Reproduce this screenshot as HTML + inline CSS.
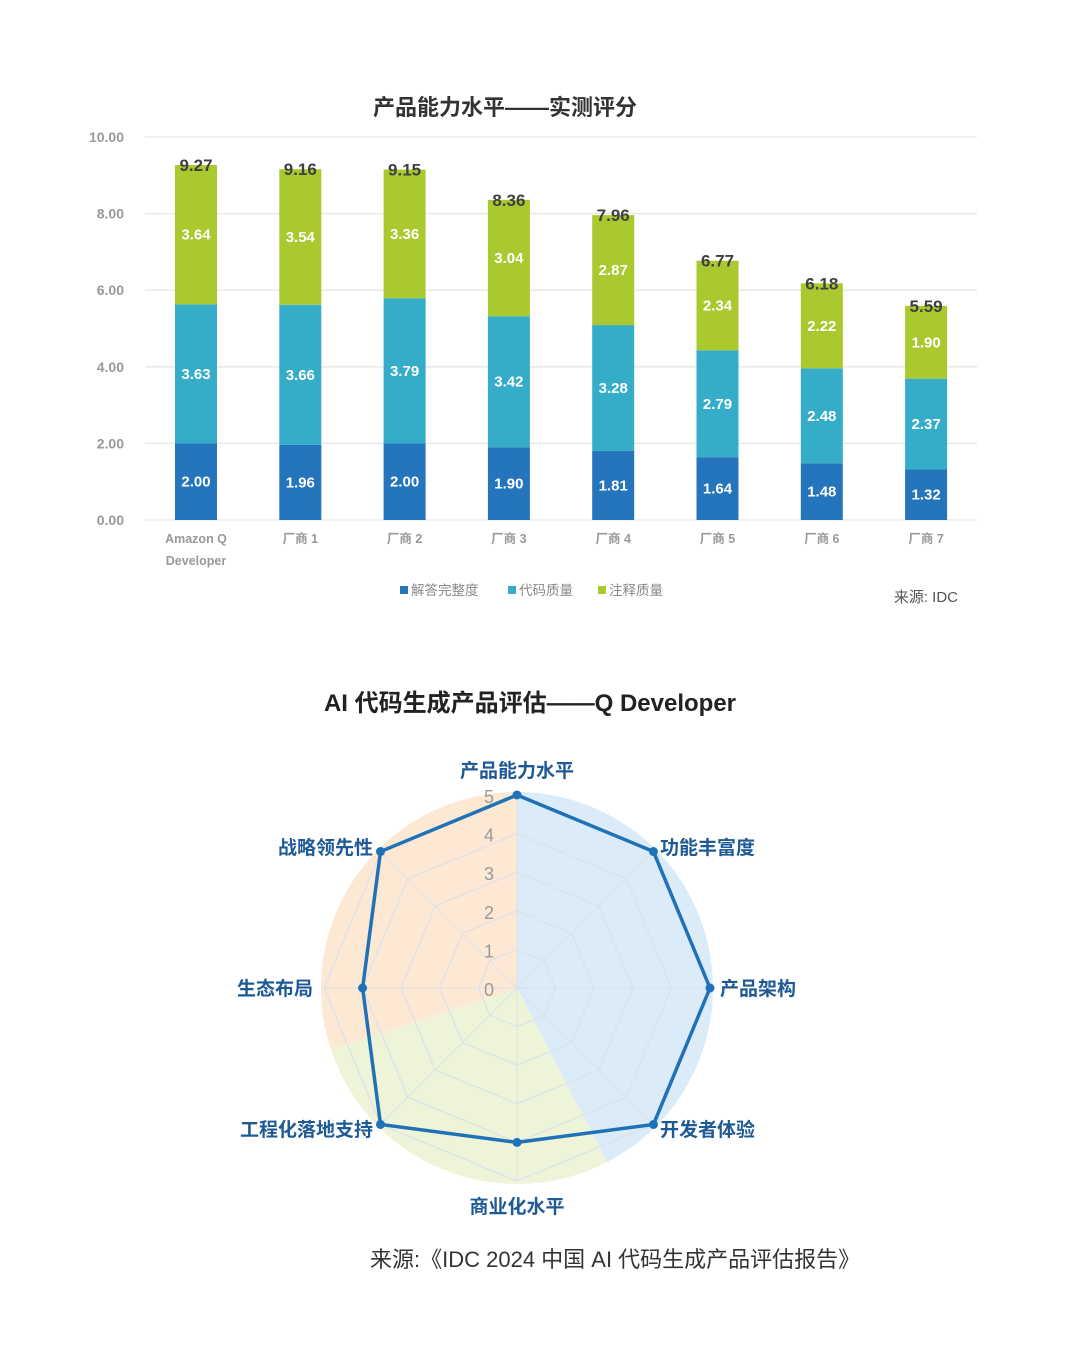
<!DOCTYPE html>
<html><head><meta charset="utf-8">
<style>
body{margin:0;background:#fff;}
svg text{font-family:"Liberation Sans","Noto Sans CJK SC",sans-serif;}
</style></head>
<body>
<svg width="1080" height="1350" viewBox="0 0 1080 1350" xmlns="http://www.w3.org/2000/svg">
<g id="bar"></g>
<g id="radar"></g>
</svg>
<script>
const NS="http://www.w3.org/2000/svg";
function mk(parent,tag,attrs,txt){const e=document.createElementNS(NS,tag);for(const k in attrs)e.setAttribute(k,attrs[k]);if(txt!==undefined)e.textContent=txt;parent.appendChild(e);return e;}

// ---- bar chart data ----
const categories=["Amazon Q|Developer","厂商 1","厂商 2","厂商 3","厂商 4","厂商 5","厂商 6","厂商 7"];
const completeness=[2.00,1.96,2.00,1.90,1.81,1.64,1.48,1.32];
const codeQuality=[3.63,3.66,3.79,3.42,3.28,2.79,2.48,2.37];
const commentQuality=[3.64,3.54,3.36,3.04,2.87,2.34,2.22,1.90];
const totals=[9.27,9.16,9.15,8.36,7.96,6.77,6.18,5.59];
const yTicks=[0,2,4,6,8,10];
const seriesNames=["解答完整度","代码质量","注释质量"];

// ---- radar data ----
const radarAxes=["产品能力水平","功能丰富度","产品架构","开发者体验","商业化水平","工程化落地支持","生态布局","战略领先性"];
const radarValues=[5,5,5,5,4,5,4,5];
const radarTicks=[0,1,2,3,4,5];
const sectorShares=[0.424,0.275,0.301];

const bar=document.getElementById('bar');
const y0=520,pxPer=38.3;
const yScale=v=>y0-v*pxPer;
const xScale=i=>196+i*104.3;
const colors=["#2475bb","#35adc8","#a9c92f"];

let t=mk(bar,'text',{x:505,y:115,'text-anchor':'middle','font-size':22,'font-weight':'bold',fill:'#333'},'产品能力水平——实测评分');



yTicks.forEach(v=>{
  const l=mk(bar,'line',{x1:145,x2:977,y1:yScale(v),y2:yScale(v),stroke:'#e6e6e6','stroke-width':1.3});
  
  
  const tx=mk(bar,'text',{x:124,y:yScale(v)+5,'text-anchor':'end','font-size':14,'font-weight':'bold',fill:'#999'},v.toFixed(2));
  
  
});

const series=[completeness,codeQuality,commentQuality];
categories.forEach((c,i)=>{
  let base=0;
  const cx=xScale(i);
  series.forEach((s,k)=>{
    const v=s[i];
    const r=mk(bar,'rect',{x:cx-21,y:yScale(base+v),width:42,height:v*pxPer,fill:colors[k]});
    
    
    const lb=mk(bar,'text',{x:cx,y:yScale(base+v/2)+5,'text-anchor':'middle','font-size':15,'font-weight':'bold',fill:'#fff'},v.toFixed(2));
    
    
    base+=v;
  });
  const tl=mk(bar,'text',{x:cx,y:yScale(totals[i])+6,'text-anchor':'middle','font-size':17,'font-weight':'bold',fill:'#404040'},totals[i].toFixed(2));
  
  
  const parts=c.split('|');
  parts.forEach((p,j)=>{
    const xl=mk(bar,'text',{x:cx,y:543+j*22,'text-anchor':'middle','font-size':12.5,'font-weight':'bold',fill:'#999'},p);
    
    
  });
});

const legX=[400,508,598];
seriesNames.forEach((n,k)=>{
  const g=mk(bar,'g',{});
  
  
  mk(g,'rect',{x:legX[k],y:586,width:8,height:8,fill:colors[k]});
  mk(g,'text',{x:legX[k]+11,y:595,'font-size':13.5,fill:'#888'},n);
});
t=mk(bar,'text',{x:958,y:602,'text-anchor':'end','font-size':15,fill:'#555'},'来源: IDC');



// ---- radar ----
const radar=document.getElementById('radar');
const cx=517,cy=988,R=193;
const N=radarAxes.length;
const ang=i=>i*2*Math.PI/N;
const rScale=v=>v/5*R;
const pt=(i,v)=>[cx+rScale(v)*Math.sin(ang(i)),cy-rScale(v)*Math.cos(ang(i))];

t=mk(radar,'text',{x:530,y:711,'text-anchor':'middle','font-size':24,'font-weight':'bold',fill:'#222'},'AI 代码生成产品评估——Q Developer');



const secColors=["#dcebf8","#eef4d8","#fde9d3"];
let a0=0;const SR=196;
sectorShares.forEach((s,k)=>{
  const a1=a0+s*2*Math.PI;
  const p0=[cx+SR*Math.sin(a0),cy-SR*Math.cos(a0)],p1=[cx+SR*Math.sin(a1),cy-SR*Math.cos(a1)];
  const large=(a1-a0)>Math.PI?1:0;
  const p=mk(radar,'path',{d:`M${cx},${cy} L${p0[0]},${p0[1]} A${SR},${SR} 0 ${large} 1 ${p1[0]},${p1[1]} Z`,fill:secColors[k]});
  
  
  a0=a1;
});

radarTicks.slice(1).forEach(v=>{
  const pts=radarAxes.map((_,i)=>pt(i,v).join(',')).join(' ');
  const g=mk(radar,'polygon',{points:pts,fill:'none',stroke:'#dde0e8','stroke-width':1.2});
  
  
});
radarAxes.forEach((a,i)=>{
  const e=pt(i,5);
  const l=mk(radar,'line',{x1:cx,y1:cy,x2:e[0],y2:e[1],stroke:'#dde0e8','stroke-width':1});
  
  
});
radarTicks.forEach(v=>{
  const tx=mk(radar,'text',{x:489,y:cy-rScale(v)+8,'text-anchor':'middle','font-size':18,fill:'#999'},String(v));
  
  
});

const poly=mk(radar,'polygon',{points:radarValues.map((v,i)=>pt(i,v).join(',')).join(' '),fill:'none',stroke:'#1f72b8','stroke-width':3.5,'stroke-linejoin':'round'});


radarValues.forEach((v,i)=>{
  const p=pt(i,v);
  const c=mk(radar,'circle',{cx:p[0],cy:p[1],r:4.5,fill:'#1f72b8'});
  
  
});

const labelPos=[[517,777,'middle'],[660,854,'start'],[720,995,'start'],[660,1136,'start'],[517,1213,'middle'],[373,1136,'end'],[313,995,'end'],[373,854,'end']];
radarAxes.forEach((a,i)=>{
  const lp=labelPos[i];
  const tx=mk(radar,'text',{x:lp[0],y:lp[1],'text-anchor':lp[2],'font-size':19,'font-weight':'bold',fill:'#1f5a96'},a);
  
  
});

t=mk(radar,'text',{x:370,y:1267,'font-size':22,fill:'#333'},'来源:《IDC 2024 中国 AI 代码生成产品评估报告》');


</script>
</body></html>
